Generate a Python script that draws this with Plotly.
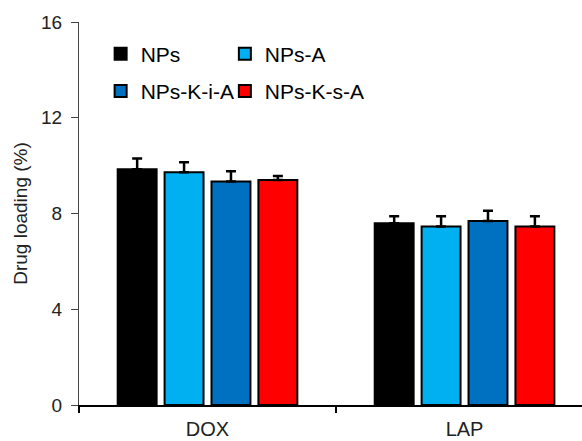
import plotly.graph_objects as go

categories = ["DOX", "LAP"]
series_names = ["NPs", "NPs-A", "NPs-K-i-A", "NPs-K-s-A"]
series_colors = ["#000000", "#00B0F0", "#0070C0", "#FF0000"]
nps = [9.85, 7.59]
nps_a = [9.72, 7.46]
nps_kia = [9.34, 7.69]
nps_ksa = [9.40, 7.46]
nps_err = [0.45, 0.29]
nps_a_err = [0.42, 0.42]
nps_kia_err = [0.42, 0.42]
nps_ksa_err = [0.17, 0.42]
no_err = [0, 0]
y_ticks = [0, 4, 8, 12, 16]

values = [nps, nps_a, nps_kia, nps_ksa]
errors = [nps_err, nps_a_err, nps_kia_err, nps_ksa_err]
legend_ids = ["legend", "legend2", "legend", "legend2"]

FONT = "Arial, Liberation Sans, sans-serif"

fig = go.Figure()
for i, name in enumerate(series_names):
    fig.add_trace(go.Bar(
        name=name,
        x=categories,
        y=values[i],
        marker=dict(color=series_colors[i], line=dict(color="#000000", width=2)),
        error_y=dict(type="data", array=errors[i], arrayminus=no_err,
                     symmetric=False, visible=True,
                     color="#000000", thickness=2.5, width=5),
        legend=legend_ids[i],
        legendgroup=name,
    ))

legend_common = dict(
    orientation="v",
    font=dict(family=FONT, size=21, color="#000000"),
    bgcolor="rgba(0,0,0,0)",
    tracegroupgap=7,
    itemwidth=30,
    yanchor="top",
    xanchor="left",
    y=0.97,
)

fig.update_layout(
    width=582, height=441,
    margin=dict(l=79, r=0, t=22, b=36),
    paper_bgcolor="white", plot_bgcolor="white",
    barmode="group",
    bargap=0.27,
    bargroupgap=0.17,
    showlegend=True,
    legend=dict(**legend_common, x=0.043),
    legend2=dict(**legend_common, x=0.29),
    font=dict(family=FONT, color="#000000"),
    xaxis=dict(
        range=[-0.5, 1.457],
        showline=True, linecolor="#000000", linewidth=2,
        ticks="outside", ticklen=6, tickwidth=1.5, tickcolor="#000000",
        tickson="boundaries",
        ticklabelstandoff=5,
        tickfont=dict(family=FONT, size=20, color="#222222"),
        showgrid=False, zeroline=False,
    ),
    yaxis=dict(
        range=[0, 16],
        tickvals=y_ticks,
        showline=True, linecolor="#444444", linewidth=1.2,
        ticks="outside", ticklen=7, tickwidth=1.2, tickcolor="#444444",
        ticklabelstandoff=5,
        tickfont=dict(family=FONT, size=19, color="#222222"),
        title=dict(text="Drug loading (%)", font=dict(family=FONT, size=19, color="#222222"), standoff=8),
        showgrid=False, zeroline=False,
    ),
)

fig.write_html("out.html", config={"displayModeBar": False},
               post_script="document.body.style.margin='0';document.body.style.overflow='hidden';")
